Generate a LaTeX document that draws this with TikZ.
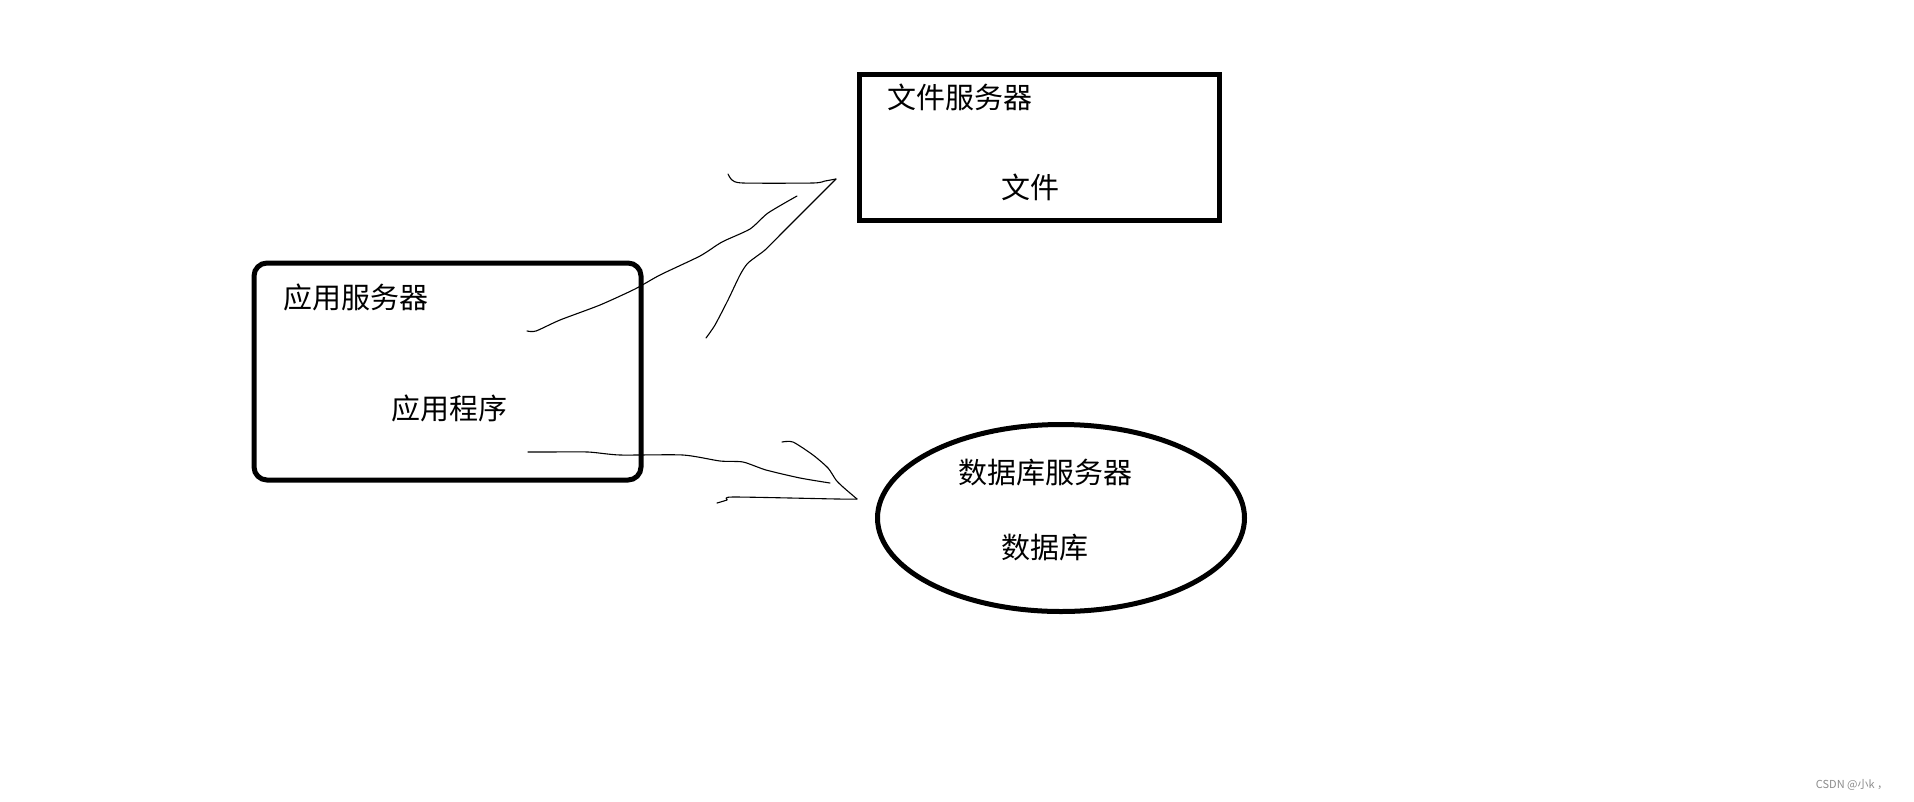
\documentclass[tikz,border=0pt]{standalone}
\usepackage{fontspec}
\setmainfont{Noto Sans CJK SC}
\usetikzlibrary{shapes.geometric}
\tikzset{
  lbl/.style={inner sep=0pt, font=\fontsize{29}{32}\selectfont},
  thickbox/.style={draw, line width=5pt, inner sep=0pt},
  hand/.style={line width=1.1pt, line join=round, line cap=round},
}
\begin{document}
\begin{tikzpicture}[x=1pt,y=-1pt]
\useasboundingbox[fill=white] (0,0) rectangle (1914,801);
% application server
\node[thickbox, rounded corners=13pt, minimum width=387pt, minimum height=217pt] (app) at (447.5,371.5) {};
\node[lbl] (appsrv) at (356,297) {应用服务器};
\node[lbl] (appprog) at (449.5,408) {应用程序};
% file server
\node[thickbox, minimum width=360pt, minimum height=146pt] (file) at (1039.5,147.5) {};
\node[lbl] (filesrv) at (960,97) {文件服务器};
\node[lbl] (filef) at (1030,187) {文件};
% database server
\node[thickbox, ellipse, minimum width=367pt, minimum height=187pt] (db) at (1061,518) {};
\node[lbl] (dbsrv) at (1045,473) {数据库服务器};
\node[lbl] (dbdb) at (1045,548) {数据库};
% hand-drawn arrow to file server
\draw[hand] plot[smooth, tension=0.4] coordinates {(527,331) (536,331) (560,320) (600,305) (635,289) (660,275) (700,256) (722,242) (750,229) (768,213) (797,196)};
\draw[hand] plot[smooth, tension=0.4] coordinates {(728,174) (732,180) (743,183) (813,183) (825,181) (836,179)};
\draw[hand] plot[smooth, tension=0.4] coordinates {(836,179) (825,190) (815,200) (800,215) (780,235) (765,250) (748,263) (740,275) (728,300) (715,325) (706,338)};
% hand-drawn arrow to database server
\draw[hand] plot[smooth, tension=0.4] coordinates {(528,452) (547,452) (588,452) (620,455) (683,455) (720,461) (743,462) (766,470) (800,478) (830,483)};
\draw[hand] plot[smooth, tension=0.4] coordinates {(782,442) (793,442) (813,455) (828,468) (836,480) (843,487) (857,499)};
\draw[hand] plot[smooth, tension=0.4] coordinates {(857,499) (837,499) (733,497) (727,500) (717,503)};
% watermark
\node[inner sep=0pt, text=black!45, font=\fontsize{11}{12}\selectfont] (wm) at (1852,785) {CSDN @小k ，};
\end{tikzpicture}
\end{document}
